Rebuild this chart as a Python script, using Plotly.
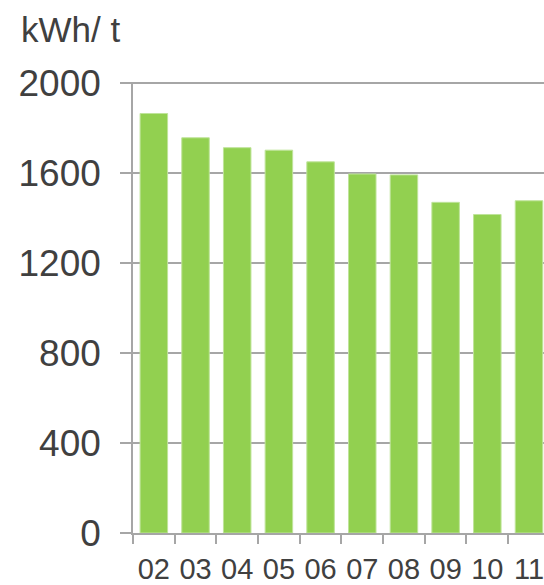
import plotly.graph_objects as go

categories = ["02", "03", "04", "05", "06", "07", "08", "09", "10", "11"]
values = [1865, 1757, 1713, 1702, 1650, 1596, 1592, 1470, 1416, 1477]
y_ticks = [0, 400, 800, 1200, 1600, 2000]
unit_label = "kWh/ t"

TEXT = "#404040"
GRID = "#a6a6a6"
FONT = "Liberation Sans, Arial, sans-serif"

W, H = 544, 585
L, T, B = 133, 82, 52
PH = H - T - B
PW = W - L

fig = go.Figure(
    go.Bar(
        x=categories,
        y=values,
        marker=dict(color="#92d050", line=dict(color="#bfe49a", width=1)),
    )
)

fig.update_layout(
    width=W,
    height=H,
    margin=dict(l=L, r=0, t=T, b=B, autoexpand=False),
    plot_bgcolor="white",
    paper_bgcolor="white",
    bargap=0.34,
    showlegend=False,
    font=dict(family=FONT, color=TEXT),
    annotations=[
        dict(
            text=unit_label,
            xref="paper",
            yref="paper",
            x=(19 - L) / PW,
            y=(T + PH - 29) / PH,
            xanchor="left",
            yanchor="middle",
            showarrow=False,
            font=dict(size=35, color=TEXT, family=FONT),
        )
    ],
)

fig.update_xaxes(
    type="category",
    range=[-0.5, 9.36],
    automargin=False,
    showline=True,
    linecolor=GRID,
    linewidth=1.5,
    ticks="outside",
    tickson="boundaries",
    ticklen=9,
    tickwidth=1.5,
    tickcolor=GRID,
    showgrid=False,
    tickangle=0,
    tickfont=dict(size=29, color=TEXT, family=FONT),
    ticklabelstandoff=9,
)

fig.update_yaxes(
    range=[0, 2005],
    automargin=False,
    tickvals=y_ticks,
    ticktext=[str(v) for v in y_ticks],
    showline=True,
    linecolor=GRID,
    linewidth=1.5,
    ticks="outside",
    ticklen=11,
    tickwidth=1.5,
    tickcolor=GRID,
    showgrid=True,
    gridcolor=GRID,
    gridwidth=1.5,
    zeroline=False,
    tickfont=dict(size=37, color=TEXT, family=FONT),
    ticklabelstandoff=12,
)

fig.write_html(
    "out.html",
    config={"displayModeBar": False},
    post_script="document.body.style.margin='0';document.body.style.overflow='hidden';",
)
